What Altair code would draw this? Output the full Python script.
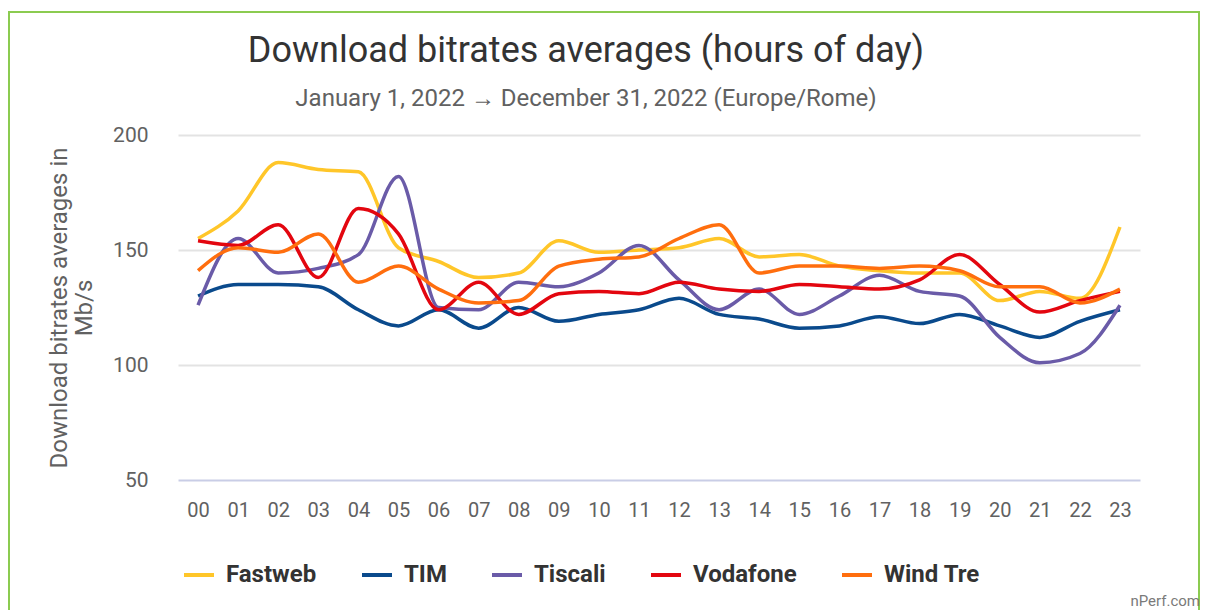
import altair as alt
import pandas as pd

hours = ["00", "01", "02", "03", "04", "05", "06", "07", "08", "09", "10", "11",
         "12", "13", "14", "15", "16", "17", "18", "19", "20", "21", "22", "23"]

fastweb = [155, 167, 188, 185, 184, 151, 145, 138, 140, 154, 149, 150,
           151, 155, 147, 148, 143, 141, 140, 140, 128, 132, 129, 160]
tim = [130, 135, 135, 134, 124, 117, 124, 116, 125, 119, 122, 124,
       129, 122, 120, 116, 117, 121, 118, 122, 117, 112, 119, 124]
tiscali = [126, 155, 140, 142, 148, 182, 125, 124, 136, 134, 140, 152,
           137, 124, 133, 122, 130, 139, 132, 130, 112, 101, 105, 126]
vodafone = [154, 152, 161, 138, 168, 157, 124, 136, 122, 131, 132, 131,
            136, 133, 132, 135, 134, 133, 137, 148, 135, 123, 128, 132]
windtre = [141, 151, 149, 157, 136, 143, 133, 127, 128, 143, 146, 147,
           155, 161, 140, 143, 143, 142, 143, 141, 134, 134, 127, 133]

operators = ["Fastweb", "TIM", "Tiscali", "Vodafone", "Wind Tre"]
colors = ["#FFC629", "#0A4A8C", "#6A5BA8", "#E3060F", "#FF6E0E"]
series = [fastweb, tim, tiscali, vodafone, windtre]

rows = []
for name, vals in zip(operators, series):
    for h, v in zip(hours, vals):
        rows.append({"hour": h, "operator": name, "value": v})
df = pd.DataFrame(rows)

FONT = "Roboto"

lines = alt.Chart(df).mark_line(strokeWidth=3.5, interpolate="monotone").encode(
    x=alt.X("hour:O", sort=hours,
            scale=alt.Scale(type="point", padding=0.5),
            axis=alt.Axis(title=None, labelAngle=0, labelFontSize=20, labelFont=FONT,
                          labelColor="#616161", ticks=False, tickSize=0, domain=False,
                          labelPadding=20, grid=False)),
    y=alt.Y("value:Q",
            scale=alt.Scale(domain=[50, 200], nice=False, zero=False),
            axis=alt.Axis(values=[50, 100, 150, 200], title=["Download bitrates averages in", "Mb/s"],
                          titleFontSize=24, titleFont=FONT, titleFontWeight="normal",
                          titleColor="#616161", titlePadding=16, titleLineHeight=25,
                          labelFontSize=21, labelFont=FONT, labelColor="#616161",
                          ticks=False, tickSize=0, domain=False, labelPadding=30,
                          gridColor={"condition": {"test": "datum.value === 50", "value": "#C9CDE6"},
                                     "value": "#E3E3E3"},
                          gridWidth=2)),
    color=alt.Color("operator:N", sort=operators,
                    scale=alt.Scale(domain=operators, range=colors),
                    legend=alt.Legend(title=None, orient="none", direction="horizontal",
                                      legendX=4, legendY=423, symbolType="stroke",
                                      symbolSize=900, symbolStrokeWidth=4,
                                      labelFont=FONT, labelFontSize=24, labelFontWeight="bold",
                                      labelColor="#333333", labelOffset=10, columnPadding=37,
                                      gridAlign="none", padding=0)),
)

border = alt.Chart(alt.Data(values=[{"a": 1}])).mark_rect(
    fill="transparent", stroke="#8BCB50", strokeWidth=2
).encode(
    x=alt.value(-169), x2=alt.value(1021), y=alt.value(-123), y2=alt.value(520)
)

credit = alt.Chart(alt.Data(values=[{"t": "nPerf.com"}])).mark_text(
    align="right", baseline="bottom", fontSize=15, font=FONT, color="#7a7a7a"
).encode(
    text="t:N", x=alt.value(1022), y=alt.value(474)
)

chart = alt.layer(lines, border, credit).properties(
    width=962, height=345,
    autosize=alt.AutoSizeParams(type="none"),
    padding={"left": 170, "top": 127, "right": 62, "bottom": 135},
    background="white",
    title=alt.TitleParams(
        text="Download bitrates averages (hours of day)",
        subtitle="January 1, 2022 \u2192 December 31, 2022 (Europe/Rome)",
        anchor="middle", frame="group", dx=-73, dy=101, offset=0,
        font=FONT, fontSize=36, fontWeight="normal", color="#333333",
        subtitleFont=FONT, subtitleFontSize=24, subtitleColor="#616161",
        subtitlePadding=17,
    ),
).configure_view(strokeWidth=0, stroke="transparent")

chart.save("out.html", embed_options={"renderer": "svg", "actions": False})
